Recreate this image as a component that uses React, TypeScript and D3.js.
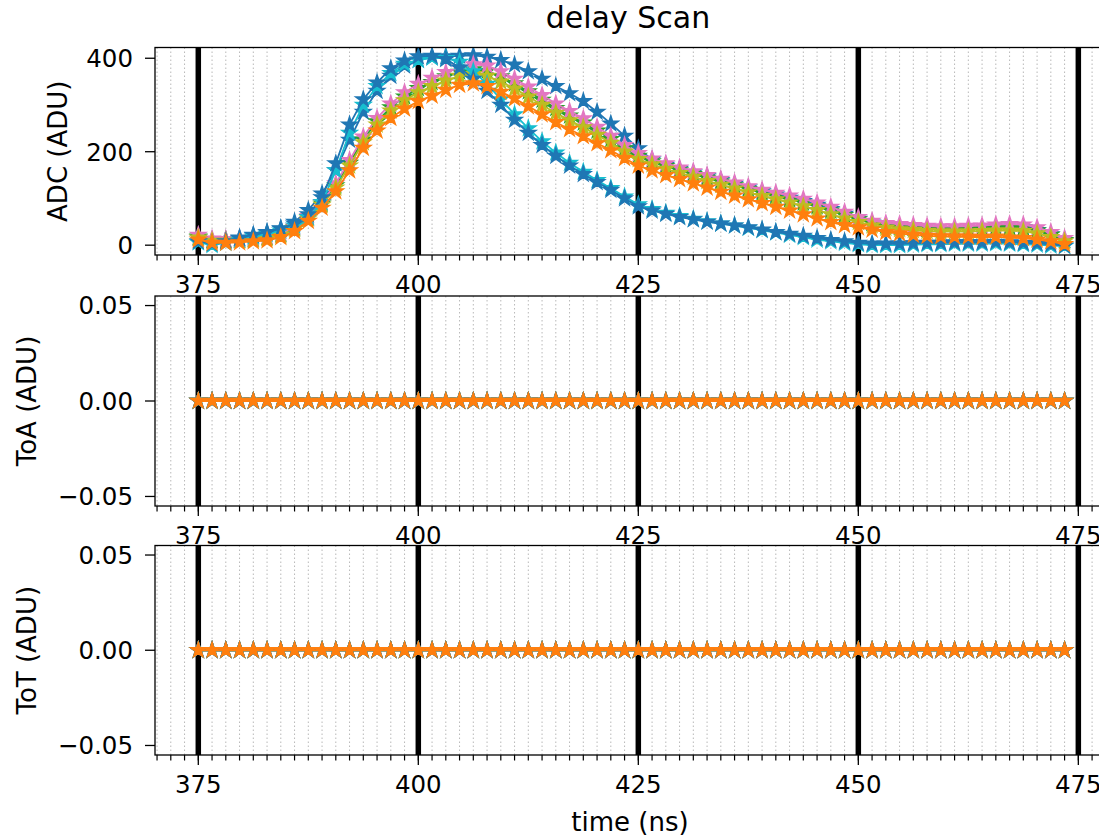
import React from 'react';
import * as d3 from 'd3';

// delay steps (ns)
const delayNs = [
  375, 376.5625, 378.125, 379.6875, 381.25, 382.8125, 384.375, 385.9375,
  387.5, 389.0625, 390.625, 392.1875, 393.75, 395.3125, 396.875, 398.4375,
  400, 401.5625, 403.125, 404.6875, 406.25, 407.8125, 409.375, 410.9375,
  412.5, 414.0625, 415.625, 417.1875, 418.75, 420.3125, 421.875, 423.4375,
  425, 426.5625, 428.125, 429.6875, 431.25, 432.8125, 434.375, 435.9375,
  437.5, 439.0625, 440.625, 442.1875, 443.75, 445.3125, 446.875, 448.4375,
  450, 451.5625, 453.125, 454.6875, 456.25, 457.8125, 459.375, 460.9375,
  462.5, 464.0625, 465.625, 467.1875, 468.75, 470.3125, 471.875, 473.4375,
];

// ADC values per channel
const adcBlueLate = [
  16, 10, 12, 16, 21, 27, 36, 50, 75, 110, 160, 225, 285, 330, 362, 384,
  397, 402, 404, 405, 406, 403, 396, 386, 372, 356, 340, 325, 308, 285, 260, 234,
  207, 183, 172, 163, 155, 147, 139, 131, 123, 115, 108, 101, 94, 86, 77, 67,
  56, 48, 42, 39, 37, 35, 34, 34, 35, 36, 38, 39, 38, 32, 23, 11,
];
const adcGreen = [
  18, 11, 11, 12, 14, 17, 24, 38, 60, 89, 128, 176, 226, 265, 295, 318,
  336, 349, 361, 371, 376, 373, 361, 346, 329, 311, 293, 277, 262, 245, 227, 207,
  191, 179, 169, 160, 152, 144, 136, 128, 120, 112, 105, 98, 91, 83, 74, 64,
  55, 47, 42, 39, 37, 35, 34, 34, 35, 36, 37, 38, 37, 31, 22, 11,
];
const adcPink = [
  22, 14, 13, 14, 16, 19, 26, 40, 62, 92, 132, 182, 232, 272, 303, 327,
  345, 358, 370, 380, 387, 384, 372, 356, 339, 321, 303, 287, 271, 253, 234, 214,
  197, 185, 175, 166, 158, 150, 142, 134, 126, 118, 112, 106, 99, 91, 82, 71,
  60, 52, 47, 45, 43, 41, 40, 40, 41, 42, 44, 45, 44, 38, 28, 15,
];
const adcOlive = [
  16, 9, 9, 10, 12, 15, 21, 35, 57, 86, 123, 170, 220, 258, 288, 310,
  327, 340, 352, 362, 366, 362, 350, 335, 318, 300, 283, 267, 252, 236, 219, 200,
  184, 173, 163, 154, 146, 137, 129, 121, 113, 105, 98, 91, 83, 75, 66, 57,
  49, 42, 37, 34, 32, 30, 29, 29, 29, 30, 31, 31, 30, 25, 17, 8,
];
const adcCyan = [
  6, 0, 5, 12, 18, 24, 31, 42, 60, 92, 160, 240, 300, 340, 368, 388,
  396, 401, 400, 392, 372, 345, 312, 280, 250, 222, 198, 176, 157, 139, 122, 104,
  87, 77, 69, 62, 56, 51, 46, 42, 37, 32, 27, 22, 17, 12, 8, 5,
  2, 0, 0, 0, 1, 2, 2, 3, 3, 3, 4, 3, 2, 1, -1, -2,
];
const adcBlueEarly = [
  8, 3, 8, 15, 22, 28, 35, 46, 66, 102, 175, 258, 312, 348, 378, 395,
  404, 405, 398, 380, 356, 330, 300, 268, 240, 214, 191, 170, 152, 135, 118, 100,
  83, 74, 67, 60, 55, 50, 46, 42, 38, 33, 28, 24, 20, 15, 11, 8,
  5, 3, 3, 3, 4, 5, 5, 6, 6, 6, 7, 6, 5, 4, 2, -1,
];
const adcOrange = [
  12, 5, 5, 6, 8, 10, 17, 30, 52, 80, 115, 160, 208, 245, 272, 292,
  308, 320, 332, 343, 346, 340, 328, 314, 297, 280, 263, 248, 233, 218, 203, 186,
  170, 160, 150, 141, 132, 123, 114, 106, 98, 90, 82, 74, 66, 57, 49, 43,
  38, 33, 28, 25, 22, 20, 19, 18, 18, 17, 18, 16, 15, 12, 8, 2,
];

// ToA / ToT values (all channels read zero)
const toaValues = [
  0, 0, 0, 0, 0, 0, 0, 0, 0, 0, 0, 0, 0, 0, 0, 0,
  0, 0, 0, 0, 0, 0, 0, 0, 0, 0, 0, 0, 0, 0, 0, 0,
  0, 0, 0, 0, 0, 0, 0, 0, 0, 0, 0, 0, 0, 0, 0, 0,
  0, 0, 0, 0, 0, 0, 0, 0, 0, 0, 0, 0, 0, 0, 0, 0,
];
const totValues = [
  0, 0, 0, 0, 0, 0, 0, 0, 0, 0, 0, 0, 0, 0, 0, 0,
  0, 0, 0, 0, 0, 0, 0, 0, 0, 0, 0, 0, 0, 0, 0, 0,
  0, 0, 0, 0, 0, 0, 0, 0, 0, 0, 0, 0, 0, 0, 0, 0,
  0, 0, 0, 0, 0, 0, 0, 0, 0, 0, 0, 0, 0, 0, 0, 0,
];

const seriesColors = ['#1f77b4', '#2ca02c', '#e377c2', '#bcbd22', '#17becf', '#1f77b4', '#ff7f0e'];
const adcSeries = [adcBlueLate, adcGreen, adcPink, adcOlive, adcCyan, adcBlueEarly, adcOrange];

const xMajorTicks = [375, 400, 425, 450, 475];
const xTickLabels = ['375', '400', '425', '450', '475'];
const adcTicks = [0, 200, 400];
const adcTickLabels = ['0', '200', '400'];
const smallTicks = [-0.05, 0, 0.05];
const smallTickLabels = ['\u22120.05', '0.00', '0.05'];

const X0 = 155;
const X1 = 1107.9;

export default function App() {
  const W = 1099;
  const H = 838;
  const x = d3.scaleLinear().domain([370.08, 478.36]).range([X0, X1]);
  const minorTicks = d3.range(370.3125, 478.36, 1.5625);
  const starPath = d3.symbol().type(d3.symbolStar).size(66)() as string;

  const panels = [
    { key: 'adc', top: 47.5, bottom: 255, domain: [-21, 423], ticks: adcTicks, labels: adcTickLabels, ylabel: 'ADC (ADU)', ylabelX: 66.5, data: adcSeries },
    { key: 'toa', top: 296, bottom: 506, domain: [-0.055, 0.055], ticks: smallTicks, labels: smallTickLabels, ylabel: 'ToA (ADU)', ylabelX: 35.5, data: adcSeries.map(() => toaValues) },
    { key: 'tot', top: 545.5, bottom: 755, domain: [-0.055, 0.055], ticks: smallTicks, labels: smallTickLabels, ylabel: 'ToT (ADU)', ylabelX: 35.5, data: adcSeries.map(() => totValues) },
  ];

  const font = 'DejaVu Sans';

  return (
    <svg width={W} height={H} style={{ position: 'absolute', left: 0, top: 0, background: '#fff' }} fontFamily={font}>
      <rect x={0} y={0} width={W} height={H} fill="#fff" />
      {panels.map((p) => {
        const y = d3.scaleLinear().domain(p.domain).range([p.bottom, p.top]);
        const line = d3.line<number>().x((_, i) => x(delayNs[i])).y((v) => y(v));
        const clipId = `clip-${p.key}`;
        return (
          <g key={p.key}>
            <defs>
              <clipPath id={clipId}>
                <rect x={X0} y={p.top} width={X1 - X0} height={p.bottom - p.top} />
              </clipPath>
            </defs>
            <g clipPath={`url(#${clipId})`}>
              {minorTicks.map((t, i) => (
                <line key={`g${i}`} x1={x(t)} x2={x(t)} y1={p.top} y2={p.bottom} stroke="#b8b8b8" strokeWidth={1} strokeDasharray="1.5 2.5" />
              ))}
              {xMajorTicks.map((t) => (
                <line key={`v${t}`} x1={x(t)} x2={x(t)} y1={p.top} y2={p.bottom} stroke="#000" strokeWidth={5.5} />
              ))}
              {p.data.map((vals, si) => (
                <g key={`s${si}`}>
                  <path d={line(vals) || ''} fill="none" stroke={seriesColors[si]} strokeWidth={1.8} />
                  {vals.map((v, i) => (
                    <path key={i} d={starPath} transform={`translate(${x(delayNs[i])},${y(v)})`} fill={seriesColors[si]} stroke={seriesColors[si]} strokeWidth={1.6} strokeLinejoin="miter" />
                  ))}
                </g>
              ))}
            </g>
            <rect x={X0} y={p.top} width={X1 - X0} height={p.bottom - p.top} fill="none" stroke="#000" strokeWidth={1.3} />
            {minorTicks.map((t, i) => (
              <line key={`mt${i}`} x1={x(t)} x2={x(t)} y1={p.bottom} y2={p.bottom + 5.5} stroke="#000" strokeWidth={1.2} />
            ))}
            {xMajorTicks.map((t, i) => (
              <g key={`xt${t}`}>
                <line x1={x(t)} x2={x(t)} y1={p.bottom} y2={p.bottom + 10} stroke="#000" strokeWidth={1.3} />
                <text x={x(t)} y={p.bottom + 38} textAnchor="middle" fontSize={24.5} fill="#000">{xTickLabels[i]}</text>
              </g>
            ))}
            {p.ticks.map((t, i) => (
              <g key={`yt${i}`}>
                <line x1={X0 - 10} x2={X0} y1={y(t)} y2={y(t)} stroke="#000" strokeWidth={1.3} />
                <text x={133} y={y(t)} dy="0.36em" textAnchor="end" fontSize={24.5} fill="#000">{p.labels[i]}</text>
              </g>
            ))}
            <text transform={`translate(${p.ylabelX},${(p.top + p.bottom) / 2}) rotate(-90)`} textAnchor="middle" fontSize={26} fill="#000">{p.ylabel}</text>
          </g>
        );
      })}
      <text x={628} y={28} textAnchor="middle" fontSize={30} fill="#000">delay Scan</text>
      <text x={630} y={831} textAnchor="middle" fontSize={26} fill="#000">time (ns)</text>
    </svg>
  );
}
